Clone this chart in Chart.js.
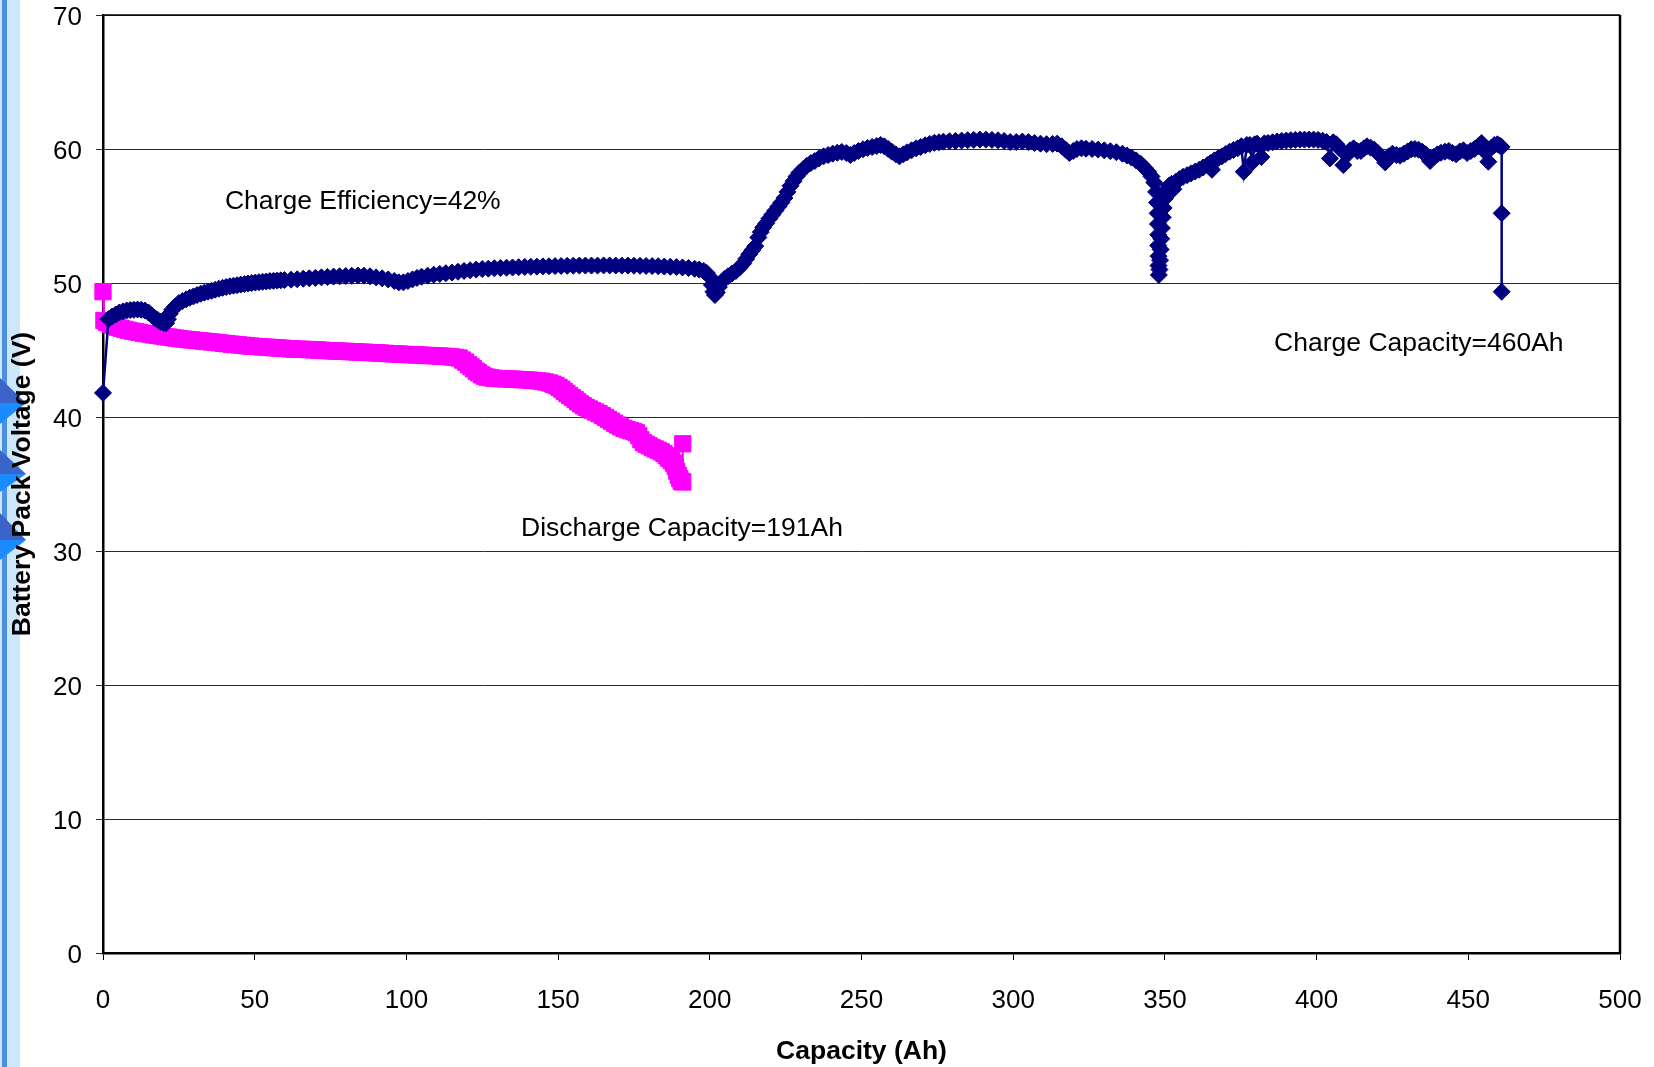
<!DOCTYPE html>
<html>
<head>
<meta charset="utf-8">
<script src="https://cdn.jsdelivr.net/npm/chart.js@4.4.1/dist/chart.umd.min.js"></script>
<style>
  html, body { margin: 0; padding: 0; background: #fff; }
  #wrap { width: 1654px; height: 1067px; }
</style>
</head>
<body>
<div id="wrap"><canvas id="chart" width="1654" height="1067"></canvas></div>
<script>
// Charge curve: [capacity Ah, pack voltage V]
const chargePoints = [
  [0,41.8],[1.8,47.3],[3,47.5],[4.2,47.65],[5.4,47.8],[6.6,47.88],[7.8,47.95],[9,47.98],[10.2,48.0],[11.4,48.02],
  [12.6,48.0],[13.8,47.95],[15,47.8],[16,47.6],[17,47.4],[18,47.25],[19,47.1],[20,47.02],[20.8,47.0],[21.4,47.3],
  [22,47.7],[22.8,48.0],[23.8,48.25],[25,48.5],[26.2,48.65],[27.4,48.78],[28.6,48.9],[29.8,49.0],[31,49.1],[32.2,49.2],
  [33.4,49.28],[34.6,49.35],[35.8,49.42],[37,49.5],[38.2,49.57],[39.4,49.64],[40.6,49.7],[41.8,49.75],[43,49.8],[44.2,49.84],
  [45.4,49.88],[46.6,49.92],[47.8,49.96],[49,50.0],[50.2,50.03],[51.4,50.06],[52.6,50.09],[53.8,50.11],[55,50.14],[56.2,50.16],
  [57.4,50.18],[58.6,50.2],[59.8,50.22],[62,50.25],[64,50.28],[66,50.32],[68,50.35],[70,50.38],[72,50.42],[74,50.45],
  [76,50.48],[78,50.5],[80,50.52],[82,50.54],[84,50.56],[86,50.55],[88,50.5],[90,50.42],[92,50.35],[94,50.27],
  [96,50.15],[97.5,50.05],[99,50.05],[100.5,50.15],[102,50.27],[103.5,50.38],[105,50.47],[107,50.55],[109,50.62],[111,50.68],
  [113,50.73],[115,50.78],[117,50.84],[119,50.9],[121,50.95],[123,51.0],[125,51.04],[127,51.07],[129,51.1],[131,51.12],
  [133,51.14],[135,51.16],[137,51.18],[139,51.2],[141,51.21],[143,51.22],[145,51.24],[147,51.25],[149,51.26],[151,51.27],
  [153,51.28],[155,51.29],[157,51.3],[159,51.3],[161,51.3],[163,51.3],[165,51.31],[167,51.31],[169,51.3],[171,51.3],
  [173,51.3],[175,51.29],[177,51.28],[179,51.27],[181,51.26],[183,51.25],[185,51.23],[187,51.21],[189,51.19],[191,51.16],
  [193,51.12],[195,51.06],[196.5,51.0],[198,50.9],[199,50.75],[200,50.45],[200.7,49.85],[201.2,49.35],[201.7,49.1],[202.3,49.3],
  [203,49.7],[203.8,50.05],[204.8,50.3],[206,50.5],[207.3,50.7],[208.6,50.9],[209.8,51.15],[211,51.45],[212,51.8],[213,52.15],
  [214,52.45],[215,52.75],[216,53.4],[216.8,53.8],[217.6,54.15],[218.6,54.45],[219.6,54.8],[220.6,55.1],[221.6,55.4],[222.6,55.7],
  [223.6,56.0],[224.6,56.35],[225.6,56.8],[226.6,57.25],[227.6,57.6],[228.6,57.95],[229.6,58.25],[230.8,58.5],[232,58.75],[233.3,58.95],
  [234.6,59.1],[236,59.3],[237.5,59.45],[239,59.55],[240.5,59.65],[242,59.72],[243.5,59.78],[245,59.7],[246.3,59.55],[247.6,59.7],
  [249,59.85],[250.5,59.98],[252,60.08],[253.5,60.15],[255,60.22],[256.3,60.3],[257.5,60.2],[258.8,60.0],[260,59.8],[261.3,59.6],
  [262.5,59.45],[263.8,59.6],[265,59.75],[266.5,59.9],[268,60.05],[269.5,60.15],[271,60.28],[272.5,60.38],[274,60.46],[275.5,60.5],
  [277,60.55],[279,60.58],[281,60.6],[283,60.63],[285,60.66],[287,60.68],[289,60.7],[291,60.7],[293,60.68],[295,60.65],
  [297,60.6],[299,60.52],[301,60.52],[303,60.56],[305,60.52],[307,60.45],[309,60.4],[311,60.36],[313,60.38],[314.5,60.4],
  [316,60.2],[317.3,59.95],[318.5,59.7],[319.8,59.85],[321,60.0],[322.5,60.05],[324,60.02],[326,60.0],[328,59.96],[330,59.9],
  [332,59.84],[334,59.76],[336,59.65],[337.5,59.52],[339,59.36],[340.5,59.15],[342,58.9],[343.3,58.6],[344.5,58.3],[345.6,57.95],
  [346.5,57.5],[347.1,56.8],[347.4,56.0],[347.6,55.2],[347.7,54.4],[347.8,53.6],[347.8,52.8],[347.9,52.0],[347.9,51.3],[348,50.6],
  [348.2,51.0],[348.4,51.7],[348.6,52.5],[348.8,53.3],[349,54.1],[349.3,54.9],[349.6,55.6],[350,56.3],[350.6,56.9],[351.3,57.25],
  [352.2,57.4],[352.8,57.0],[353.6,57.55],[354.8,57.75],[356,57.92],[357.3,58.05],[358.6,58.18],[360,58.32],[361.3,58.45],[362.6,58.62],
  [364,58.8],[365,58.95],[365.5,58.45],[366.3,59.15],[367.5,59.3],[368.8,59.45],[370,59.62],[371.3,59.8],[372.6,59.92],[374,60.05],
  [375.2,60.2],[376,58.3],[377,60.3],[378,60.3],[378.8,59.0],[379.6,60.35],[380.4,60.4],[381.8,59.4],[382.8,60.42],[384,60.45],
  [385.5,60.5],[387,60.56],[388.5,60.6],[390,60.63],[391.5,60.66],[393,60.68],[394.5,60.7],[396,60.7],[397.5,60.7],[399,60.7],
  [400.5,60.68],[402,60.62],[403.3,60.52],[404.4,59.3],[405.5,60.5],[406.5,60.35],[407.5,60.05],[408.8,58.8],[410,59.55],[411,59.9],
  [412.2,60.05],[413.4,59.85],[414.6,59.85],[415.6,60.05],[416.6,60.2],[417.8,60.1],[419,59.95],[420.2,59.7],[421.4,59.4],[422.6,59.0],
  [423.8,59.45],[425,59.65],[426.3,59.55],[427.5,59.5],[428.8,59.65],[430,59.82],[431.2,59.98],[432.4,60.0],[433.6,59.95],[434.8,59.8],
  [436,59.6],[437.4,59.1],[438.6,59.4],[439.8,59.6],[441,59.72],[442.3,59.8],[443.6,59.85],[444.8,59.7],[446,59.6],[447.2,59.82],
  [448.4,59.9],[449.6,59.7],[450.8,59.85],[452,60.0],[453.2,60.2],[454.4,60.45],[455.5,59.8],[456.6,59.05],[457.6,60.1],[458.6,60.3],
  [459.6,60.35],[460.4,60.25],[461,60.15],[461,55.2],[461,49.35]
];

// Discharge curve: [capacity Ah, pack voltage V]
const dischargePoints = [
  [0,49.35],[0.3,47.2],[1.2,47.05],[2.4,46.92],[3.6,46.8],[4.8,46.7],[6,46.62],[7.2,46.54],[8.4,46.47],[9.6,46.41],
  [10.8,46.36],[12,46.31],[13.2,46.26],[14.4,46.22],[15.6,46.18],[16.8,46.13],[18,46.09],[19.2,46.05],[20.4,46.0],[21.6,45.97],
  [22.8,45.93],[24,45.89],[25.3,45.85],[26.6,45.81],[27.9,45.78],[29.2,45.75],[30.5,45.72],[31.8,45.69],[33.1,45.66],[34.4,45.63],
  [35.7,45.6],[37,45.57],[38.3,45.54],[39.6,45.5],[40.9,45.47],[42.2,45.44],[43.5,45.41],[44.8,45.38],[46.1,45.35],[47.4,45.32],
  [48.7,45.29],[50,45.27],[51.3,45.25],[52.6,45.23],[53.9,45.21],[55.2,45.19],[56.5,45.17],[57.8,45.15],[59.1,45.13],[60.4,45.11],
  [61.7,45.09],[63,45.07],[64.3,45.06],[65.6,45.05],[66.9,45.04],[68.2,45.03],[69.5,45.01],[70.8,45.0],[72.1,44.98],[73.4,44.96],
  [74.7,44.95],[76,44.93],[77.3,44.92],[78.6,44.91],[79.9,44.9],[81.2,44.88],[82.5,44.87],[83.8,44.85],[85.1,44.84],[86.4,44.83],
  [87.7,44.81],[89,44.8],[90.3,44.78],[91.6,44.77],[92.9,44.75],[94.2,44.73],[95.5,44.72],[96.8,44.7],[98.1,44.69],[99.4,44.67],
  [100.7,44.66],[102,44.65],[103.3,44.63],[104.6,44.62],[105.9,44.6],[107.2,44.59],[108.5,44.58],[109.8,44.56],[111.1,44.55],[112.4,44.53],
  [113.7,44.51],[115,44.48],[116.2,44.45],[117.4,44.4],[118.5,44.25],[119.5,44.1],[120.5,43.9],[121.3,43.75],[122.1,43.6],[123,43.42],
  [123.8,43.3],[124.7,43.15],[125.6,43.05],[126.6,42.97],[127.8,42.92],[129,42.89],[130.3,42.87],[131.6,42.86],[132.9,42.84],[134.2,42.83],
  [135.5,42.82],[136.8,42.8],[138.1,42.79],[139.4,42.77],[140.7,42.75],[142,42.73],[143.3,42.7],[144.6,42.67],[145.9,42.61],[147.2,42.54],
  [148.3,42.45],[149.3,42.35],[150.3,42.22],[151.2,42.08],[152,41.92],[152.9,41.75],[153.8,41.6],[154.7,41.45],[155.6,41.3],[156.5,41.13],
  [157.4,40.98],[158.3,40.84],[159.3,40.71],[160.3,40.6],[161.3,40.48],[162.4,40.37],[163.5,40.25],[164.6,40.1],[165.6,39.97],[166.6,39.83],
  [167.6,39.69],[168.6,39.54],[169.6,39.4],[170.6,39.27],[171.7,39.15],[172.8,39.05],[173.9,38.98],[174.9,38.92],[175.8,38.82],[176.6,38.6],
  [177.3,38.3],[178.1,38.08],[179,37.97],[180,37.85],[181,37.72],[182,37.62],[183,37.52],[184,37.4],[184.9,37.28],[185.7,37.1],
  [186.5,36.92],[187.3,36.75],[188,36.56],[188.6,36.3],[189.1,35.95],[189.6,35.65],[190.1,35.4],[190.6,35.2],[191.1,35.15],[191.1,38.0]
];

const xTicks = [0, 50, 100, 150, 200, 250, 300, 350, 400, 450, 500];
const yTicks = [0, 10, 20, 30, 40, 50, 60, 70];

const notes = [
  { text: 'Charge Efficiency=42%', ah: 40.2, v: 56.1 },
  { text: 'Charge Capacity=460Ah', ah: 386.0, v: 45.45 },
  { text: 'Discharge Capacity=191Ah', ah: 137.8, v: 31.7 }
];

const FONT = "'Liberation Sans', Arial, sans-serif";

// white page plus the blue window edge that shows on the left of the screenshot
const backdrop = {
  id: 'backdrop',
  beforeDraw(chart) {
    const ctx = chart.ctx;
    ctx.save();
    ctx.fillStyle = '#fff';
    ctx.fillRect(0, 0, chart.width, chart.height);
    ctx.fillStyle = '#cce7fb';
    ctx.fillRect(0, 0, 20, chart.height);
    ctx.fillStyle = '#4b8fe2';
    ctx.fillRect(2, 0, 5, chart.height);
    [[378, 403, 424], [450, 474, 492], [513, 540, 560]].forEach(([top, tip, bottom]) => {
      ctx.fillStyle = '#3a64c8';
      ctx.beginPath();
      ctx.moveTo(0, top); ctx.lineTo(26, tip); ctx.lineTo(0, tip); ctx.closePath();
      ctx.fill();
      ctx.fillStyle = '#1a8cff';
      ctx.beginPath();
      ctx.moveTo(0, tip); ctx.lineTo(26, tip); ctx.lineTo(0, bottom); ctx.closePath();
      ctx.fill();
    });
    ctx.restore();
  }
};

// top and right edges of the plot frame
const frame = {
  id: 'frame',
  beforeDatasetsDraw(chart) {
    const { ctx, chartArea: a } = chart;
    ctx.save();
    ctx.strokeStyle = '#000';
    ctx.lineWidth = 1.5;
    ctx.beginPath();
    ctx.moveTo(a.left, a.top); ctx.lineTo(a.right, a.top);
    ctx.stroke();
    ctx.lineWidth = 2.5;
    ctx.beginPath();
    ctx.moveTo(a.right, a.top); ctx.lineTo(a.right, a.bottom + 1);
    ctx.stroke();
    ctx.restore();
  }
};

const annotations = {
  id: 'annotations',
  afterDatasetsDraw(chart) {
    const { ctx, scales: { x, y } } = chart;
    ctx.save();
    ctx.font = '26.5px ' + FONT;
    ctx.fillStyle = '#000';
    ctx.textAlign = 'left';
    ctx.textBaseline = 'middle';
    notes.forEach(n => ctx.fillText(n.text, x.getPixelForValue(n.ah), y.getPixelForValue(n.v)));
    ctx.restore();
  }
};

const toXY = pts => pts.map(p => ({ x: p[0], y: p[1] }));

new Chart(document.getElementById('chart'), {
  type: 'line',
  data: {
    datasets: [
      {
        label: 'Charge',
        data: toXY(chargePoints),
        borderColor: '#000080',
        backgroundColor: '#000080',
        borderWidth: 2.5,
        pointStyle: 'rectRot',
        pointRadius: 8.5,
        pointBorderWidth: 1,
        pointBackgroundColor: '#000080',
        pointBorderColor: '#000080',
        tension: 0,
        clip: false
      },
      {
        label: 'Discharge',
        data: toXY(dischargePoints),
        borderColor: '#ff00ff',
        backgroundColor: '#ff00ff',
        borderWidth: 2,
        pointStyle: 'rect',
        pointRadius: 11.5,
        pointBorderWidth: 1,
        pointBackgroundColor: '#ff00ff',
        pointBorderColor: '#ff00ff',
        tension: 0,
        clip: false
      }
    ]
  },
  options: {
    responsive: false,
    animation: false,
    layout: { autoPadding: false, padding: { left: 0, top: 15, right: 34, bottom: 0 } },
    plugins: {
      legend: { display: false },
      tooltip: { enabled: false }
    },
    scales: {
      x: {
        type: 'linear',
        min: xTicks[0],
        max: xTicks[xTicks.length - 1],
        afterBuildTicks: s => { s.ticks = xTicks.map(v => ({ value: v })); },
        afterFit: s => { s.height = 114; s.paddingLeft = 0; s.paddingRight = 0; },
        ticks: { color: '#000', font: { family: FONT, size: 26 }, padding: 25, maxRotation: 0 },
        grid: { drawOnChartArea: false, drawTicks: true, tickLength: 7, color: '#000', lineWidth: 1 },
        border: { color: '#000', width: 2.5 },
        title: {
          display: true,
          text: 'Capacity (Ah)',
          color: '#000',
          font: { family: FONT, size: 26.5, weight: 'bold' },
          padding: { top: 0, bottom: -1 }
        }
      },
      y: {
        type: 'linear',
        min: yTicks[0],
        max: yTicks[yTicks.length - 1],
        afterBuildTicks: s => { s.ticks = yTicks.map(v => ({ value: v })); },
        afterFit: s => { s.width = 103; s.paddingTop = 0; s.paddingBottom = 0; },
        ticks: { color: '#000', font: { family: FONT, size: 26 }, padding: 14, labelOffset: 3 },
        grid: { color: '#2a2a2a', lineWidth: 1, tickLength: 7 },
        border: { color: '#000', width: 2.5 },
        title: {
          display: true,
          text: 'Battery Pack Voltage (V)',
          color: '#000',
          font: { family: FONT, size: 26.5, weight: 'bold' },
          padding: { top: 6.6, bottom: 0 }
        }
      }
    }
  },
  plugins: [backdrop, frame, annotations]
});
</script>
</body>
</html>
